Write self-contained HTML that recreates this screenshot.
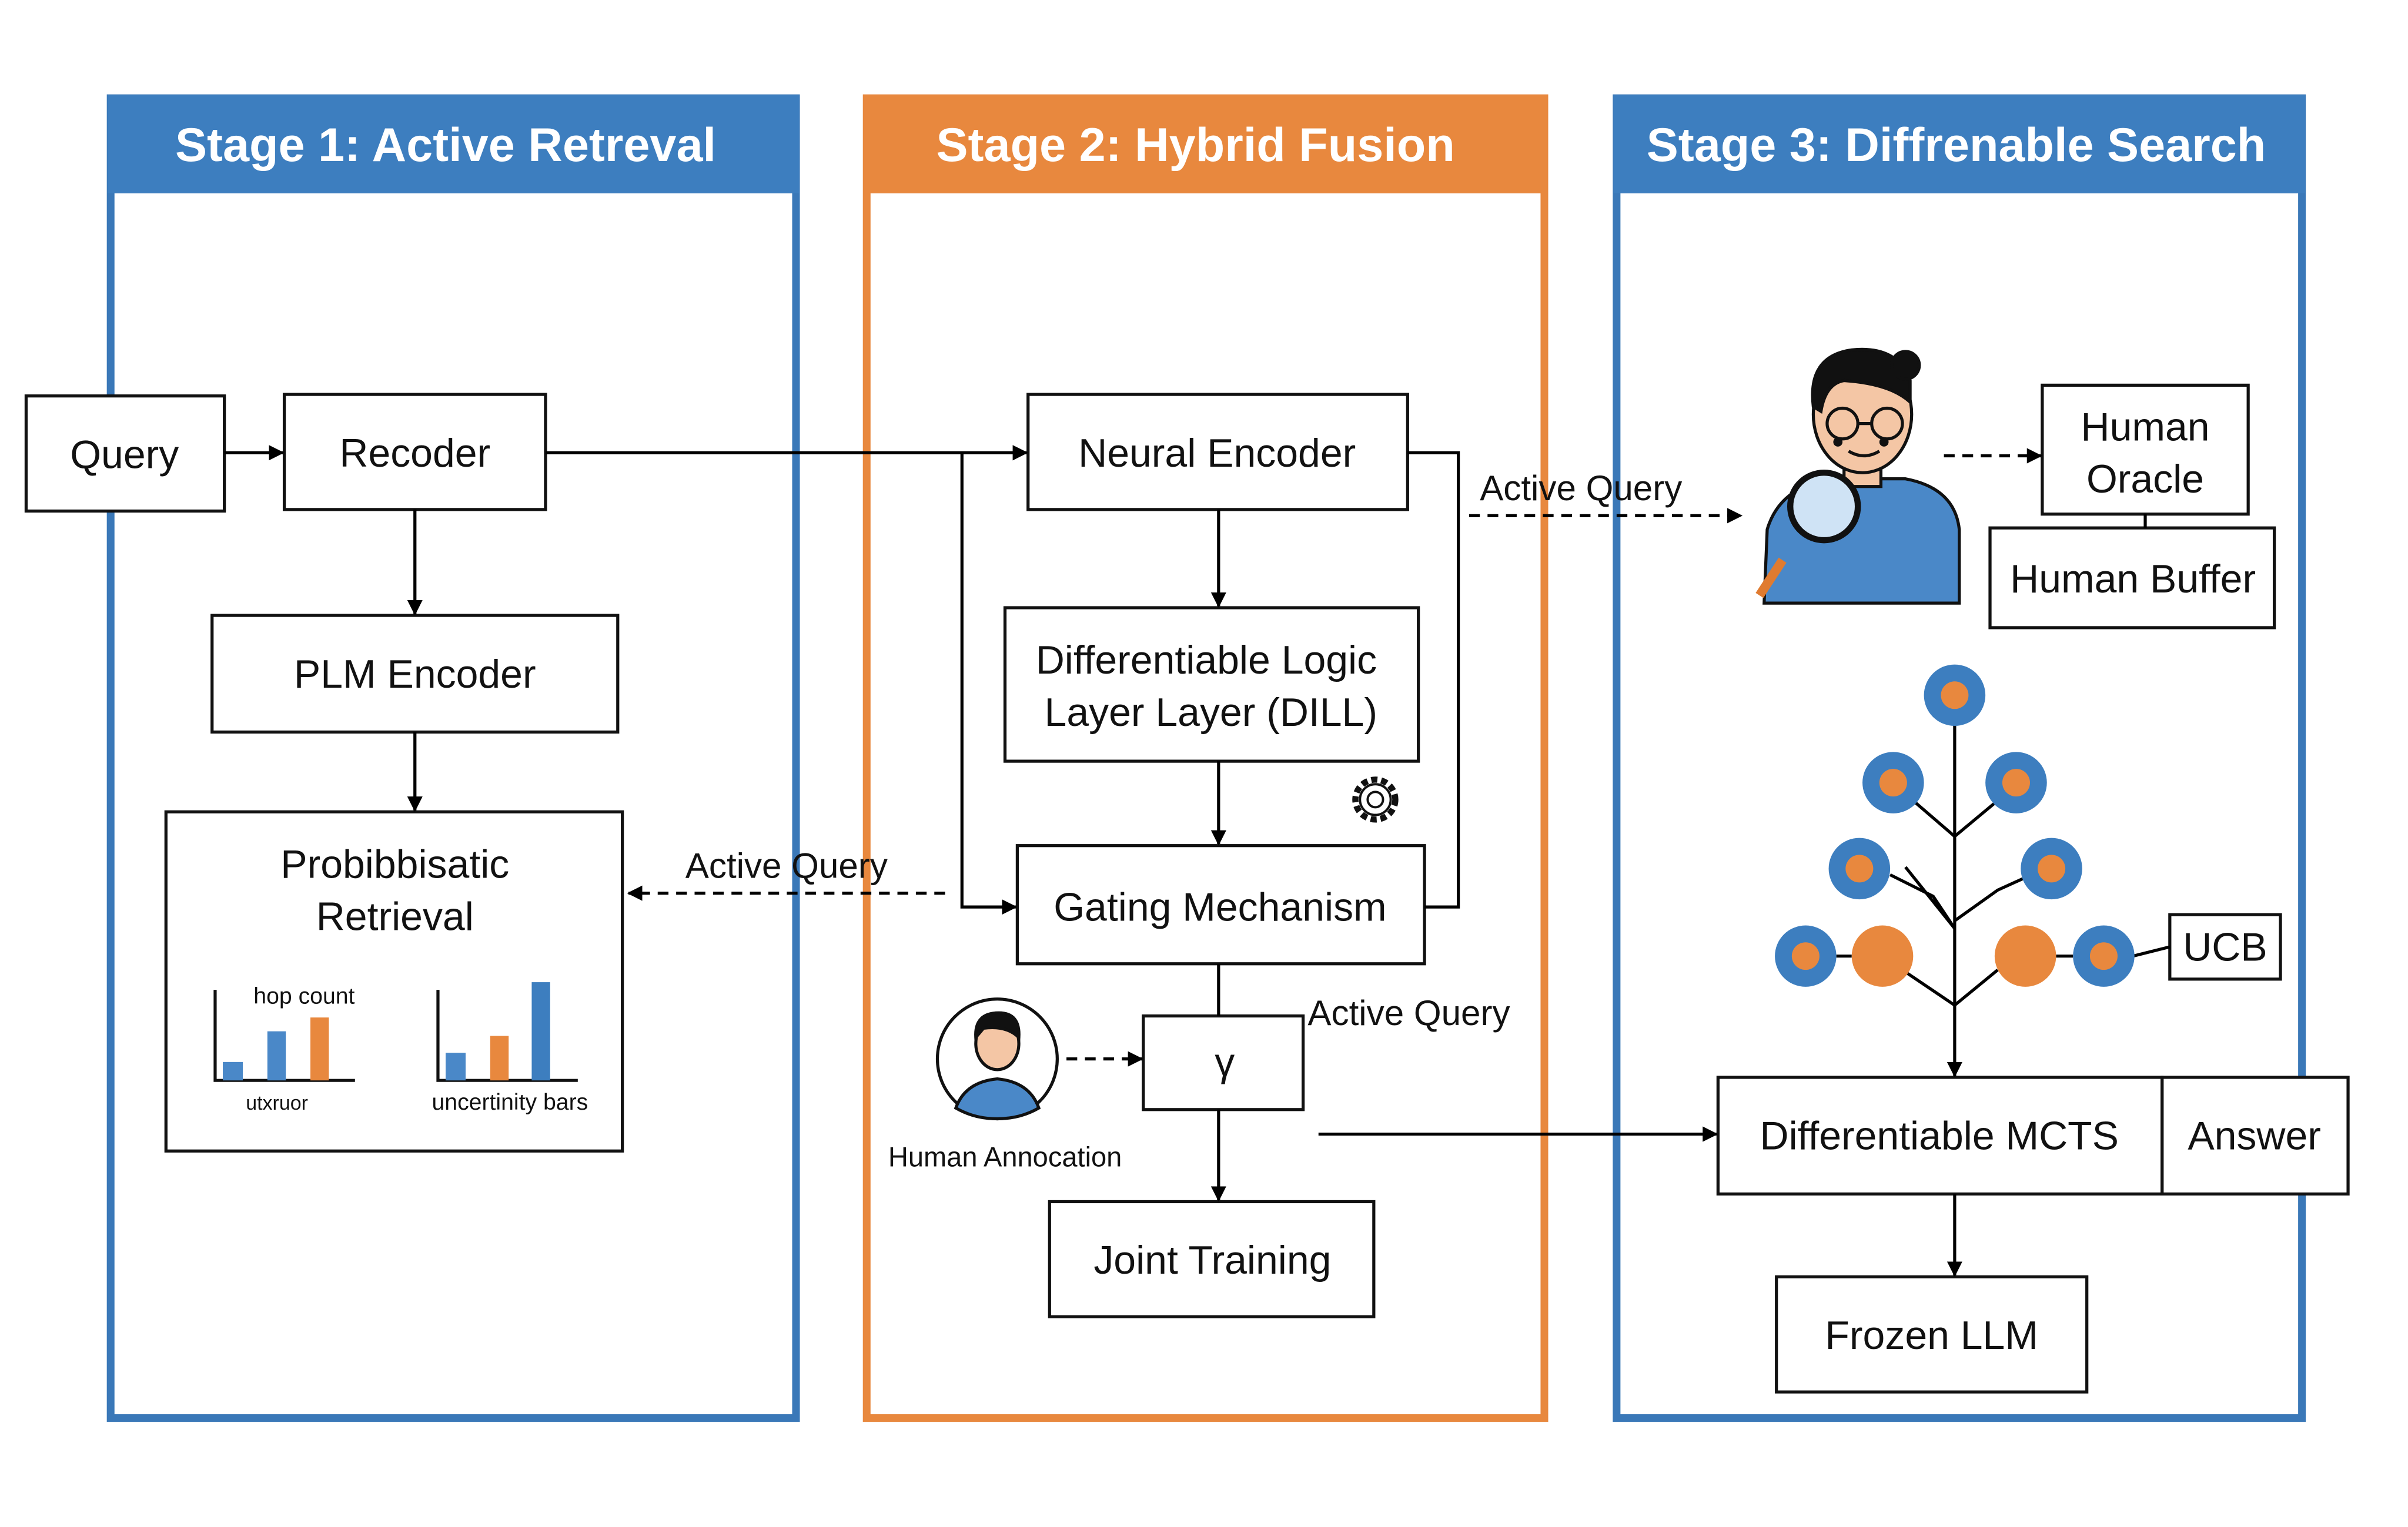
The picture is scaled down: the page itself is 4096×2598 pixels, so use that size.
<!DOCTYPE html>
<html><head><meta charset="utf-8"><style>
html,body{margin:0;padding:0;background:#fff;}
svg{display:block;}
text{font-family:"Liberation Sans","DejaVu Sans",sans-serif;}
</style></head><body>
<svg width="4096" height="2598" viewBox="0 0 1567 995" preserveAspectRatio="none" xmlns="http://www.w3.org/2000/svg">
<defs>
<marker id="ah" markerWidth="10" markerHeight="10" refX="9" refY="5" orient="auto" markerUnits="userSpaceOnUse"><path d="M0,0 L10,5 L0,10 z" fill="#000"/></marker>
</defs>
<rect width="1567" height="995" fill="#fff"/>
<rect x="72" y="64" width="446" height="860" fill="#fff" stroke="#3a78b8" stroke-width="5"/>
<rect x="70" y="62" width="450" height="64" fill="#3d7ebf"/>
<text x="290" y="105" font-size="31" font-weight="bold" fill="#fff" text-anchor="middle">Stage 1: Active Retreval</text>
<rect x="564" y="64" width="441" height="860" fill="#fff" stroke="#e8883e" stroke-width="5"/>
<rect x="562" y="62" width="445" height="64" fill="#e8883e"/>
<text x="778" y="105" font-size="31" font-weight="bold" fill="#fff" text-anchor="middle">Stage 2: Hybrid Fusion</text>
<rect x="1052" y="64" width="446" height="860" fill="#fff" stroke="#3a78b8" stroke-width="5"/>
<rect x="1050" y="62" width="450" height="64" fill="#3d7ebf"/>
<text x="1273" y="105" font-size="31" font-weight="bold" fill="#fff" text-anchor="middle">Stage 3: Diffrenable Search</text>

<g fill="#fff" stroke="#111" stroke-width="2">
<rect x="17" y="258" width="129" height="75"/>
<rect x="185" y="257" width="170" height="75"/>
<rect x="138" y="401" width="264" height="76"/>
<rect x="108" y="529" width="297" height="221"/>
<rect x="669" y="257" width="247" height="75"/>
<rect x="654" y="396" width="269" height="100"/>
<rect x="662" y="551" width="265" height="77"/>
<rect x="744" y="662" width="104" height="61"/>
<rect x="683" y="783" width="211" height="75"/>
<rect x="1329" y="251" width="134" height="84"/>
<rect x="1295" y="344" width="185" height="65"/>
<rect x="1412" y="596" width="72" height="42"/>
<rect x="1118" y="702" width="289" height="76"/>
<rect x="1407" y="702" width="121" height="76"/>
<rect x="1156" y="832" width="202" height="75"/>
</g>
<g font-size="26" fill="#111" text-anchor="middle">
<text x="81" y="305">Query</text>
<text x="270" y="304">Recoder</text>
<text x="270" y="448">PLM Encoder</text>
<text x="257" y="572">Probibbisatic</text>
<text x="257" y="606">Retrieval</text>
<text x="792" y="304">Neural Encoder</text>
<text x="785" y="439">Differentiable Logic</text>
<text x="788" y="473">Layer Layer (DILL)</text>
<text x="794" y="600">Gating Mechanism</text>
<text x="797" y="701">γ</text>
<text x="789" y="830">Joint Training</text>
<text x="1396" y="287">Human</text>
<text x="1396" y="321">Oracle</text>
<text x="1388" y="386">Human Buffer</text>
<text x="1448" y="626">UCB</text>
<text x="1262" y="749">Differentiable MCTS</text>
<text x="1467" y="749">Answer</text>
<text x="1257" y="879">Frozen LLM</text>
</g>
<g font-size="23" fill="#111">
<text x="446" y="572">Active Query</text>
<text x="963" y="326">Active Query</text>
<text x="851" y="668">Active Query</text>
</g>
<text x="578" y="760" font-size="18" fill="#111">Human Annocation</text>

<g stroke="#000" stroke-width="2" fill="none">
<line x1="146" y1="295" x2="184" y2="295" marker-end="url(#ah)"/>
<line x1="355" y1="295" x2="668" y2="295" marker-end="url(#ah)"/>
<polyline points="626,295 626,591 661,591" marker-end="url(#ah)"/>
<line x1="270" y1="332" x2="270" y2="400" marker-end="url(#ah)"/>
<line x1="270" y1="477" x2="270" y2="528" marker-end="url(#ah)"/>
<line x1="793" y1="332" x2="793" y2="395" marker-end="url(#ah)"/>
<line x1="793" y1="496" x2="793" y2="550" marker-end="url(#ah)"/>
<polyline points="916,295 949,295 949,591 927,591"/>
<line x1="793" y1="628" x2="793" y2="662"/>
<line x1="793" y1="723" x2="793" y2="782" marker-end="url(#ah)"/>
<line x1="858" y1="739" x2="1117" y2="739" marker-end="url(#ah)"/>
<line x1="1272" y1="470" x2="1272" y2="701" marker-end="url(#ah)"/>
<line x1="1272" y1="778" x2="1272" y2="831" marker-end="url(#ah)"/>
<line x1="1396" y1="335" x2="1396" y2="344"/>
<line x1="1388" y1="623" x2="1412" y2="617"/>
<g stroke-dasharray="7,5">
<line x1="956" y1="336" x2="1133" y2="336" marker-end="url(#ah)"/>
<line x1="615" y1="582" x2="409" y2="582" marker-end="url(#ah)"/>
<line x1="694" y1="690" x2="743" y2="690" marker-end="url(#ah)"/>
<line x1="1265" y1="297" x2="1328" y2="297" marker-end="url(#ah)"/>
</g>
<polyline points="1243,520 1272,545 1302,520"/>
<polyline points="1230,570 1258,584 1272,605 1240,565"/>
<polyline points="1272,600 1300,580 1322,570"/>
<polyline points="1235,630 1272,655 1300,632"/>
<line x1="1195" y1="623" x2="1205" y2="623"/>
<line x1="1338" y1="623" x2="1349" y2="623"/>
</g>
<g stroke="#111" stroke-width="2" fill="none">
<polyline points="140,645 140,704 231,704"/>
<polyline points="285,645 285,704 376,704"/>
</g>
<rect x="145" y="692" width="13" height="12" fill="#4a88c8"/>
<rect x="174" y="672" width="12" height="32" fill="#4a88c8"/>
<rect x="202" y="663" width="12" height="41" fill="#e8883e"/>
<rect x="290" y="686" width="13" height="18" fill="#4a88c8"/>
<rect x="319" y="675" width="12" height="29" fill="#e8883e"/>
<rect x="346" y="640" width="12" height="64" fill="#3d7ebf"/>
<text x="165" y="654" font-size="15" fill="#111">hop count</text>
<text x="160" y="723" font-size="13" fill="#111">utxruor</text>
<text x="281" y="723" font-size="15" fill="#111">uncertinity bars</text>
<g>
<circle cx="1272" cy="453" r="20" fill="#3d7ebf"/><circle cx="1272" cy="453" r="9" fill="#e8883e"/>
<circle cx="1232" cy="510" r="20" fill="#3d7ebf"/><circle cx="1232" cy="510" r="9" fill="#e8883e"/>
<circle cx="1312" cy="510" r="20" fill="#3d7ebf"/><circle cx="1312" cy="510" r="9" fill="#e8883e"/>
<circle cx="1210" cy="566" r="20" fill="#3d7ebf"/><circle cx="1210" cy="566" r="9" fill="#e8883e"/>
<circle cx="1335" cy="566" r="20" fill="#3d7ebf"/><circle cx="1335" cy="566" r="9" fill="#e8883e"/>
<circle cx="1175" cy="623" r="20" fill="#3d7ebf"/><circle cx="1175" cy="623" r="9" fill="#e8883e"/>
<circle cx="1225" cy="623" r="20" fill="#e8883e"/>
<circle cx="1318" cy="623" r="20" fill="#e8883e"/>
<circle cx="1369" cy="623" r="20" fill="#3d7ebf"/><circle cx="1369" cy="623" r="9" fill="#e8883e"/>
</g>
<g stroke="#111" stroke-width="2">
<path d="M1148,393 L1150,345 Q1158,318 1190,312 L1240,312 Q1272,318 1275,345 L1275,393 Z" fill="#4a88c8"/>
<rect x="1200" y="295" width="24" height="22" fill="#f4c6a5"/>
<ellipse cx="1212" cy="270" rx="32" ry="38" fill="#f4c6a5"/>
<path d="M1180,265 Q1176,232 1205,228 Q1235,225 1243,248 L1243,262 Q1230,250 1200,248 Q1188,250 1185,268 Z" fill="#111"/>
<circle cx="1240" cy="238" r="9" fill="#111"/>
<circle cx="1199" cy="276" r="10" fill="none"/><circle cx="1228" cy="276" r="10" fill="none"/>
<line x1="1209" y1="276" x2="1218" y2="276"/>
<path d="M1203,294 Q1213,300 1223,294" fill="none"/>
<line x1="1160" y1="365" x2="1145" y2="388" stroke="#e07b30" stroke-width="6"/>
<circle cx="1187" cy="330" r="22" fill="#cfe3f5" stroke-width="4"/>
</g>
<circle cx="1196" cy="288" r="3" fill="#111"/><circle cx="1226" cy="288" r="3" fill="#111"/>
<g stroke="#111" stroke-width="2">
<circle cx="649" cy="690" r="39" fill="#fff"/>
<path d="M622,722 Q628,705 649,703 Q670,705 676,722 Q664,729 649,729 Q634,729 622,722 Z" fill="#4a88c8"/>
<ellipse cx="649" cy="680" rx="14" ry="17" fill="#f4c6a5"/>
<path d="M635,676 Q634,660 650,660 Q664,660 663,676 Q655,668 640,670 Z" fill="#111"/>
</g>
<g stroke="#111" stroke-width="1.5" fill="none">
<circle cx="895" cy="521" r="13" stroke-dasharray="4,2.5" stroke-width="4"/>
<circle cx="895" cy="521" r="10" fill="#fff"/>
<circle cx="895" cy="521" r="5"/>
</g>
</svg>
</body></html>
